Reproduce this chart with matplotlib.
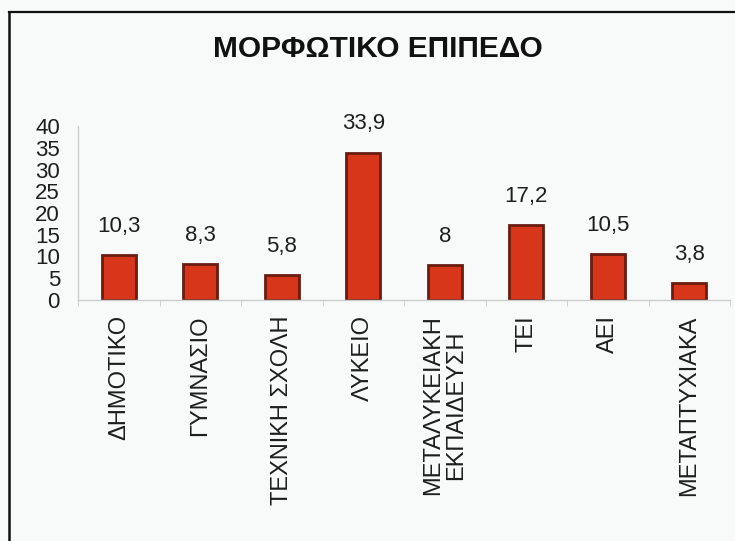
import matplotlib
matplotlib.use("Agg")
import matplotlib.pyplot as plt
import numpy as np
from matplotlib.lines import Line2D

plt.rcParams['font.family'] = ['Liberation Sans', 'DejaVu Sans']

# data
categories = ['ΔΗΜΟΤΙΚΟ', 'ΓΥΜΝΑΣΙΟ', 'ΤΕΧΝΙΚΗ ΣΧΟΛΗ', 'ΛΥΚΕΙΟ',
              'ΜΕΤΑΛΥΚΕΙΑΚΗ\nΕΚΠΑΙΔΕΥΣΗ', 'ΤΕΙ', 'ΑΕΙ', 'ΜΕΤΑΠΤΥΧΙΑΚΑ']
values = [10.3, 8.3, 5.8, 33.9, 8, 17.2, 10.5, 3.8]
value_labels = ['10,3', '8,3', '5,8', '33,9', '8', '17,2', '10,5', '3,8']
yticks = [0, 5, 10, 15, 20, 25, 30, 35, 40]

bg = '#f8f9f9'
txt = '#1e1e1e'

fig = plt.figure(figsize=(7.35, 5.41), dpi=100, facecolor=bg)
ax = fig.add_axes([78 / 735, 1 - 300 / 541, 652 / 735, 174 / 541])
ax.set_facecolor(bg)

x = np.arange(len(categories))
bars = ax.bar(x, values, width=0.42, color='#d8361a', edgecolor='#6a1c10', linewidth=2.0)

for xi, v, lab in zip(x, values, value_labels):
    ax.annotate(lab, (xi, v), xytext=(0, 13), textcoords='offset points',
                ha='center', va='bottom', fontsize=16, color=txt, annotation_clip=False)

ax.set_xlim(-0.5, len(categories) - 0.5)
ax.set_ylim(0, 40)
ax.set_yticks(yticks)
ax.set_yticklabels([str(t) for t in yticks], fontsize=16, color=txt)
ax.tick_params(axis='y', length=0, pad=13)

ax.set_xticks(x)
ax.set_xticklabels(categories, rotation=90, fontsize=17, color=txt, linespacing=1.05)
ax.set_xticks(np.arange(len(categories) + 1) - 0.5, minor=True)
ax.tick_params(axis='x', which='major', length=0, pad=11)
ax.tick_params(axis='x', which='minor', length=4, color='#c8c8c8')

for s in ['top', 'right']:
    ax.spines[s].set_visible(False)
for s in ['left', 'bottom']:
    ax.spines[s].set_color('#cccccc')
    ax.spines[s].set_linewidth(1.0)

fig.text(378 / 735, 1 - 49 / 541, 'ΜΟΡΦΩΤΙΚΟ ΕΠΙΠΕΔΟ', ha='center', va='center',
         fontsize=21.5, fontweight='bold', color='#111111')

# outer chart frame (left and top edges visible in the scan)
fig.add_artist(Line2D([9 / 735, 9 / 735], [0, 1 - 12 / 541], transform=fig.transFigure,
                      color='#111111', linewidth=1.8))
fig.add_artist(Line2D([9 / 735, 1], [1 - 12 / 541, 1 - 12 / 541], transform=fig.transFigure,
                      color='#111111', linewidth=1.6))

fig.savefig('out.png', dpi=100, facecolor=bg)
